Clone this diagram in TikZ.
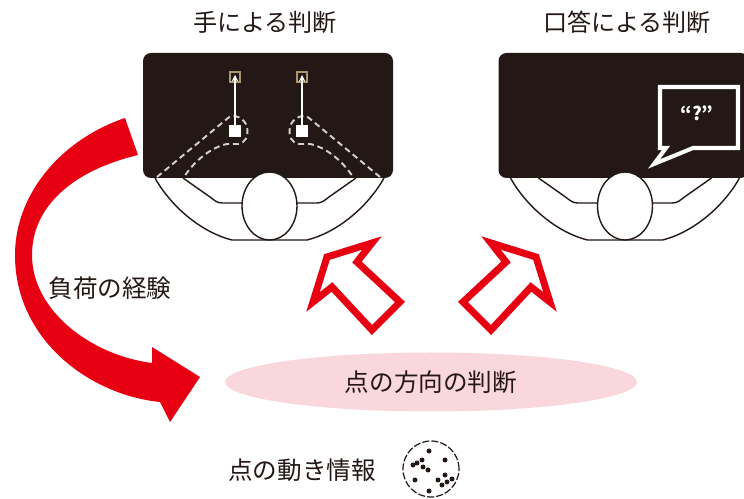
\documentclass[tikz,border=0pt]{standalone}
\usepackage{fontspec}
\setmainfont{Noto Sans CJK JP}
\usetikzlibrary{shapes.geometric}
\definecolor{inkblack}{HTML}{231815}
\definecolor{jred}{HTML}{E60012}
\definecolor{softpink}{HTML}{FAD7DD}
\definecolor{handtan}{HTML}{A8986F}
\tikzset{
  screen/.style={fill=inkblack, rounded corners=1.6mm},
  body/.style={draw=inkblack, line width=0.8pt},
  handpath/.style={draw=white!80!inkblack, line width=1.1pt, dash pattern=on 3.4pt off 2.2pt},
  hollow/.style={draw=jred, line width=4pt, line join=miter, fill=white},
  jlabel/.style={text=inkblack, font=\fontsize{14}{16}\selectfont, inner sep=0pt},
  heading/.style={jlabel, font=\fontsize{13.7}{16}\selectfont},
}
\begin{document}
\begin{tikzpicture}[x=0.2mm, y=-0.2mm]
        \useasboundingbox (0,0) rectangle (744,499);
        \clip (0,0) rectangle (744,499);
        \node[heading] (hand) at (265,22) {手による判断};
        \node[heading] (oral) at (627,22) {口答による判断};
        \fill[screen] (143,53) rectangle (393,178);
        \fill[screen] (498.5,53) rectangle (748.5,178);
        \foreach \dx in {0,355.5}{
            \begin{scope}[xshift=\dx*0.2mm]
                \draw[body] (155,178) .. controls (170,205) and (200,232) .. (232,240) -- (307,240)
                    .. controls (339,232) and (369,205) .. (384,178);
                \draw[body] (183,178) -- (210,197) .. controls (214,200) and (217,203) .. (222,203) -- (244,203);
                \draw[body] (356,178) -- (329,197) .. controls (325,200) and (322,203) .. (317,203) -- (295,203);
                \draw[body, fill=white] (269.5,206) ellipse [x radius=5.5mm, y radius=6.8mm];
            \end{scope}
        }
        \foreach \m/\s in {0/1, 537/-1}{
            \begin{scope}[shift={(\m,0)}, xscale=\s]
                \draw[handpath] (157,177) -- (228,118) .. controls (233,113) and (245,118) .. (247,127)
                    .. controls (249,137) and (245,143) .. (238,144) -- (227,144)
                    .. controls (212,147) and (195,160) .. (184,177);
                \draw[handtan, line width=1pt] (230,72) rectangle (240,82);
                \draw[white, line width=0.7pt, -stealth] (235,125) -- (235,75);
                \fill[white] (229,125) rectangle (241,137);
            \end{scope}
        }
        \draw[white, line width=2.3pt, fill=inkblack, line join=miter] (660,87) -- (738,87) -- (738,148)
            -- (693,148) -- (654,164) -- (666,148) -- (660,148) -- cycle;
        \node[text=white, font=\bfseries\fontsize{10.5}{12}\selectfont] (ask) at (697,113) {“?”};
        \fill[jred] (125,118) .. controls (60,140) and (15,195) .. (15,255)
            .. controls (15,340) and (90,395) .. (160,402)
            -- (170,422) -- (200,377) -- (152,347) -- (152,363)
            .. controls (90,355) and (32,310) .. (32,255)
            .. controls (32,205) and (75,170) .. (138,155) -- cycle;
        \node[jlabel] (load) at (110,288) {負荷の経験};
        \draw[hollow] (327,257) -- (372,243) -- (357,262) -- (400,302) -- (372,330) -- (332,287) -- (313,302) -- cycle;
        \draw[hollow] (536,257) -- (491,243) -- (506,262) -- (463,302) -- (491,330) -- (531,287) -- (550,302) -- cycle;
        \node[ellipse, fill=softpink, minimum width=82.4mm, minimum height=11.8mm, jlabel] (judge) at (431,382) {点の方向の判断};
        \node[jlabel] (info) at (302,470) {点の動き情報};
        \node[circle, draw=inkblack, line width=0.7pt, dash pattern=on 4pt off 1.2pt, minimum size=11.2mm, inner sep=0pt] (dots) at (431,469) {};
        \foreach \p in {(-2,-18),(14,-9),(-16,11),(-2,22),(-14,-6),(-9,-9),(-8,-2),(-3,1),(-18,-4),(7,11),(14,6),(16,13),(21,10),(11,16)}
            \fill[inkblack] ([shift={\p}]dots.center) circle (0.5mm);
    \end{tikzpicture}
\end{document}
